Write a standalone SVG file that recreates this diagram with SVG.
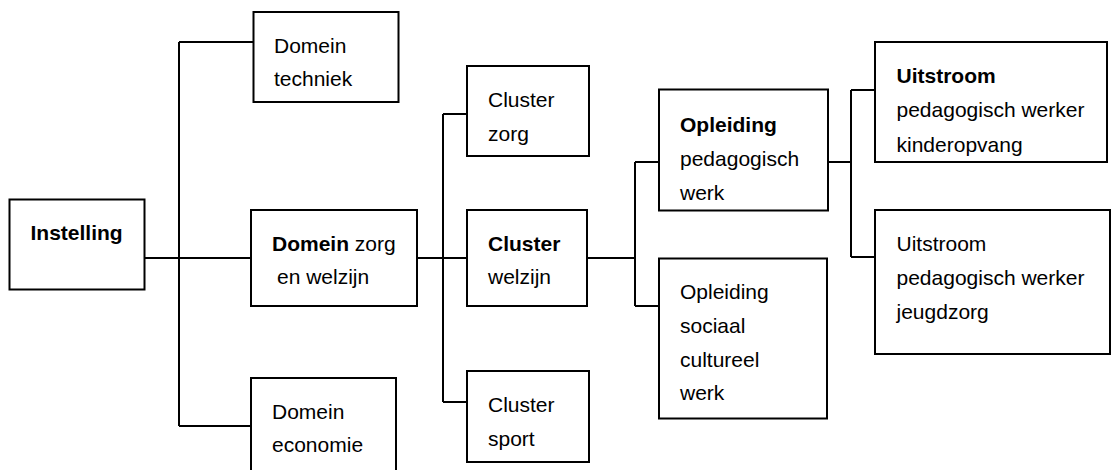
<svg xmlns="http://www.w3.org/2000/svg" width="1111" height="470" viewBox="0 0 1111 470">
<style>
  .box { fill: #fff; stroke: #000; stroke-width: 2; }
  .con { fill: none; stroke: #000; stroke-width: 2; }
  text { font-family: "Liberation Sans", Arial, sans-serif; font-size: 21px; fill: #000; }
  .b { font-weight: bold; }
</style>
<rect width="1111" height="470" fill="#fff"/>
<g id="connectors">
  <path class="con" d="M144,258 H251"/>
  <path class="con" d="M179,42 V426 M179,42 H253 M179,426 H251"/>
  <path class="con" d="M417,258 H467"/>
  <path class="con" d="M443,114 V402 M443,114 H467 M443,402 H467"/>
  <path class="con" d="M587,258 H635"/>
  <path class="con" d="M635,162 V306 M635,162 H659 M635,306 H659"/>
  <path class="con" d="M828,162 H851"/>
  <path class="con" d="M851,90 V257 M851,90 H875 M851,257 H875"/>
</g>
<g id="instelling">
  <rect class="box" x="9.5" y="199.5" width="135" height="90"/>
  <text class="b" x="30.5" y="240">Instelling</text>
</g>
<g id="domein-techniek">
  <rect class="box" x="253.5" y="12" width="145" height="90"/>
  <text x="274" y="52.5">Domein</text>
  <text x="274" y="85.5">techniek</text>
</g>
<g id="domein-zorg-welzijn">
  <rect class="box" x="251" y="210" width="166" height="96"/>
  <text x="272" y="250.5"><tspan class="b">Domein</tspan> zorg</text>
  <text x="277" y="283.5">en welzijn</text>
</g>
<g id="domein-economie">
  <rect class="box" x="251" y="378" width="145" height="100"/>
  <text x="272" y="418.5">Domein</text>
  <text x="272" y="451.5">economie</text>
</g>
<g id="cluster-zorg">
  <rect class="box" x="467" y="66" width="122" height="90"/>
  <text x="488" y="107">Cluster</text>
  <text x="488" y="140.5">zorg</text>
</g>
<g id="cluster-welzijn">
  <rect class="box" x="467" y="210" width="120" height="96"/>
  <text class="b" x="488" y="250.5">Cluster</text>
  <text x="488" y="284">welzijn</text>
</g>
<g id="cluster-sport">
  <rect class="box" x="467" y="371" width="122" height="91"/>
  <text x="488" y="411.5">Cluster</text>
  <text x="488" y="445.5">sport</text>
</g>
<g id="opleiding-pedagogisch-werk">
  <rect class="box" x="659" y="89.5" width="169" height="121"/>
  <text class="b" x="680" y="131.5">Opleiding</text>
  <text x="680" y="165.5">pedagogisch</text>
  <text x="680" y="199.5">werk</text>
</g>
<g id="opleiding-sociaal-cultureel-werk">
  <rect class="box" x="659" y="258.5" width="168" height="160"/>
  <text x="680" y="299">Opleiding</text>
  <text x="680" y="332.5">sociaal</text>
  <text x="680" y="366.5">cultureel</text>
  <text x="680" y="400">werk</text>
</g>
<g id="uitstroom-kinderopvang">
  <rect class="box" x="875" y="42" width="232" height="120"/>
  <text class="b" x="896.5" y="82.5">Uitstroom</text>
  <text x="896.5" y="117">pedagogisch werker</text>
  <text x="896.5" y="151.5">kinderopvang</text>
</g>
<g id="uitstroom-jeugdzorg">
  <rect class="box" x="875" y="210" width="235" height="144"/>
  <text x="896.5" y="251">Uitstroom</text>
  <text x="896.5" y="285">pedagogisch werker</text>
  <text x="896.5" y="318.5">jeugdzorg</text>
</g>
</svg>
